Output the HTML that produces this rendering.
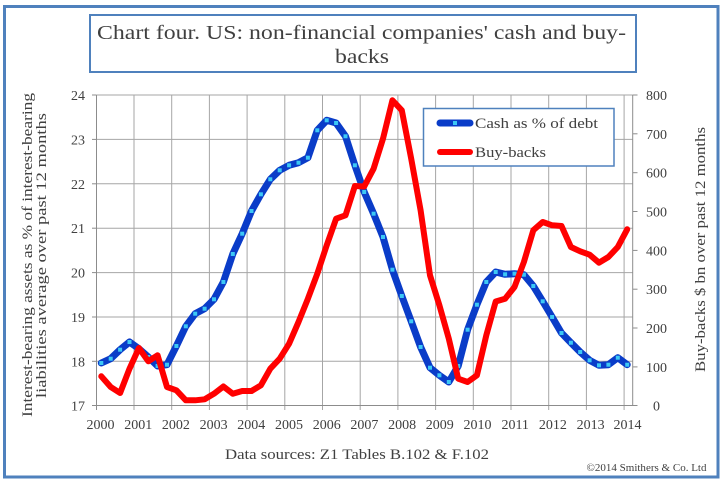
<!DOCTYPE html>
<html><head><meta charset="utf-8"><style>
html,body{margin:0;padding:0;background:#fff;}
svg{display:block;}
text{font-family:"Liberation Serif",serif;fill:#404040;}
</style></head><body>
<svg width="727" height="483" viewBox="0 0 727 483" xmlns="http://www.w3.org/2000/svg">
<rect x="0" y="0" width="727" height="483" fill="#fff"/>
<rect x="4.5" y="6.5" width="713.5" height="470.5" fill="none" stroke="#4F81BD" stroke-width="3"/>
<rect x="90" y="15" width="546" height="57" fill="#fff" stroke="#4F81BD" stroke-width="2"/>
<text x="361.5" y="39" font-size="20" text-anchor="middle" textLength="529" lengthAdjust="spacingAndGlyphs">Chart four. US: non-financial companies' cash and buy-</text>
<text x="362" y="63" font-size="20" text-anchor="middle" textLength="54" lengthAdjust="spacingAndGlyphs">backs</text>

<g stroke="#A6A6A6" stroke-width="1" fill="none">
<line x1="96" y1="95" x2="633" y2="95"/>
<line x1="96" y1="139.4" x2="633" y2="139.4"/>
<line x1="96" y1="183.8" x2="633" y2="183.8"/>
<line x1="96" y1="228.2" x2="633" y2="228.2"/>
<line x1="96" y1="272.6" x2="633" y2="272.6"/>
<line x1="96" y1="317" x2="633" y2="317"/>
<line x1="96" y1="361.3" x2="633" y2="361.3"/>
<line x1="134" y1="95" x2="134" y2="410"/>
<line x1="171.7" y1="95" x2="171.7" y2="410"/>
<line x1="209.4" y1="95" x2="209.4" y2="410"/>
<line x1="247.1" y1="95" x2="247.1" y2="410"/>
<line x1="284.8" y1="95" x2="284.8" y2="410"/>
<line x1="322.5" y1="95" x2="322.5" y2="410"/>
<line x1="360.2" y1="95" x2="360.2" y2="410"/>
<line x1="397.9" y1="95" x2="397.9" y2="410"/>
<line x1="435.6" y1="95" x2="435.6" y2="410"/>
<line x1="473.3" y1="95" x2="473.3" y2="410"/>
<line x1="511" y1="95" x2="511" y2="410"/>
<line x1="548.7" y1="95" x2="548.7" y2="410"/>
<line x1="586.4" y1="95" x2="586.4" y2="410"/>
<line x1="624.1" y1="95" x2="624.1" y2="410"/>
</g>
<g stroke="#8C8C8C" stroke-width="1" fill="none">
<line x1="96.5" y1="95" x2="96.5" y2="410"/>
<line x1="92" y1="405.5" x2="633" y2="405.5"/>
<line x1="632.7" y1="95" x2="632.7" y2="405.5"/>
<line x1="92" y1="95" x2="96" y2="95"/>
<line x1="92" y1="139.4" x2="96" y2="139.4"/>
<line x1="92" y1="183.8" x2="96" y2="183.8"/>
<line x1="92" y1="228.2" x2="96" y2="228.2"/>
<line x1="92" y1="272.6" x2="96" y2="272.6"/>
<line x1="92" y1="317" x2="96" y2="317"/>
<line x1="92" y1="361.3" x2="96" y2="361.3"/>
<line x1="633" y1="95" x2="637.5" y2="95"/>
<line x1="633" y1="133.8" x2="637.5" y2="133.8"/>
<line x1="633" y1="172.7" x2="637.5" y2="172.7"/>
<line x1="633" y1="211.5" x2="637.5" y2="211.5"/>
<line x1="633" y1="250.4" x2="637.5" y2="250.4"/>
<line x1="633" y1="289.2" x2="637.5" y2="289.2"/>
<line x1="633" y1="328" x2="637.5" y2="328"/>
<line x1="633" y1="366.9" x2="637.5" y2="366.9"/>
<line x1="633" y1="405.5" x2="637.5" y2="405.5"/>
</g>

<g font-size="14" text-anchor="end">
<text x="85" y="100">24</text>
<text x="85" y="144.4">23</text>
<text x="85" y="188.8">22</text>
<text x="85" y="233.2">21</text>
<text x="85" y="277.6">20</text>
<text x="85" y="322">19</text>
<text x="85" y="366.3">18</text>
<text x="85" y="410.5">17</text>
</g>
<g font-size="14">
<text x="646" y="100">800</text>
<text x="646" y="138.8">700</text>
<text x="646" y="177.7">600</text>
<text x="646" y="216.5">500</text>
<text x="646" y="255.4">400</text>
<text x="646" y="294.2">300</text>
<text x="646" y="333">200</text>
<text x="646" y="371.9">100</text>
<text x="653" y="410.5">0</text>
</g>
<g font-size="14" text-anchor="middle">
<text x="100.5" y="429">2000</text>
<text x="138.2" y="429">2001</text>
<text x="175.9" y="429">2002</text>
<text x="213.6" y="429">2003</text>
<text x="251.3" y="429">2004</text>
<text x="289" y="429">2005</text>
<text x="326.7" y="429">2006</text>
<text x="364.4" y="429">2007</text>
<text x="402.1" y="429">2008</text>
<text x="439.8" y="429">2009</text>
<text x="477.5" y="429">2010</text>
<text x="515.2" y="429">2011</text>
<text x="552.9" y="429">2012</text>
<text x="590.6" y="429">2013</text>
<text x="627.5" y="429">2014</text>
</g>

<text transform="translate(32,255) rotate(-90)" font-size="15" text-anchor="middle" textLength="324" lengthAdjust="spacingAndGlyphs">Interest-bearing assets as % of interest-bearing</text>
<text transform="translate(46,255.5) rotate(-90)" font-size="15" text-anchor="middle" textLength="285" lengthAdjust="spacingAndGlyphs">liabilities average over past 12 months</text>
<text transform="translate(705,249.5) rotate(-90)" font-size="15" text-anchor="middle" textLength="245" lengthAdjust="spacingAndGlyphs">Buy-backs $ bn over past 12 months</text>

<text x="357" y="459" font-size="15" text-anchor="middle" textLength="264" lengthAdjust="spacingAndGlyphs">Data sources: Z1 Tables B.102 &amp; F.102</text>
<text x="646.5" y="471" font-size="10.5" text-anchor="middle" textLength="120" lengthAdjust="spacingAndGlyphs">©2014 Smithers &amp; Co. Ltd</text>

<polyline fill="none" stroke="#0A3CC8" stroke-width="7" stroke-linejoin="round" stroke-linecap="round" points="101.3,363 110.7,358.7 120.1,349.7 129.5,342 138.9,348.7 148.3,357 157.6,366 167,364.7 176.4,346 185.8,326.3 195.2,313.7 204.6,308.7 214,299.3 223.4,282 232.8,254 242.2,233.7 251.5,211 260.9,194.3 270.3,179.3 279.7,170.3 289.1,165.3 298.5,162.7 307.9,157.7 317.3,130.3 326.7,120.3 336.1,123 345.5,136.3 354.9,165.3 364.2,192 373.6,213.7 383,237 392.4,269.7 401.8,296 411.2,321.3 420.6,347 430,367.7 439.4,375.3 448.8,382 458.2,366 467.6,329.7 476.9,304.7 486.3,282 495.7,272 505.1,274.3 514.5,273.7 523.9,274.7 533.3,286 542.7,301.3 552.1,317 561.5,333 570.9,342.7 580.2,352 589.6,360.3 599,365.3 608.4,364.7 617.8,357.7 627.2,364.7"/>
<g fill="#3CC8F5" id="mk">
<rect x="99.3" y="361" width="4" height="4"/><rect x="108.7" y="356.7" width="4" height="4"/><rect x="118.1" y="347.7" width="4" height="4"/><rect x="127.5" y="340" width="4" height="4"/><rect x="136.9" y="346.7" width="4" height="4"/><rect x="146.3" y="355" width="4" height="4"/><rect x="155.6" y="364" width="4" height="4"/><rect x="165" y="362.7" width="4" height="4"/><rect x="174.4" y="344" width="4" height="4"/><rect x="183.8" y="324.3" width="4" height="4"/><rect x="193.2" y="311.7" width="4" height="4"/><rect x="202.6" y="306.7" width="4" height="4"/><rect x="212" y="297.3" width="4" height="4"/><rect x="221.4" y="280" width="4" height="4"/><rect x="230.8" y="252" width="4" height="4"/><rect x="240.2" y="231.7" width="4" height="4"/><rect x="249.5" y="209" width="4" height="4"/><rect x="258.9" y="192.3" width="4" height="4"/><rect x="268.3" y="177.3" width="4" height="4"/><rect x="277.7" y="168.3" width="4" height="4"/><rect x="287.1" y="163.3" width="4" height="4"/><rect x="296.5" y="160.7" width="4" height="4"/><rect x="305.9" y="155.7" width="4" height="4"/><rect x="315.3" y="128.3" width="4" height="4"/><rect x="324.7" y="118.3" width="4" height="4"/><rect x="334.1" y="121" width="4" height="4"/><rect x="343.5" y="134.3" width="4" height="4"/><rect x="352.9" y="163.3" width="4" height="4"/><rect x="362.2" y="190" width="4" height="4"/><rect x="371.6" y="211.7" width="4" height="4"/><rect x="381" y="235" width="4" height="4"/><rect x="390.4" y="267.7" width="4" height="4"/><rect x="399.8" y="294" width="4" height="4"/><rect x="409.2" y="319.3" width="4" height="4"/><rect x="418.6" y="345" width="4" height="4"/><rect x="428" y="365.7" width="4" height="4"/><rect x="437.4" y="373.3" width="4" height="4"/><rect x="446.8" y="380" width="4" height="4"/><rect x="456.2" y="364" width="4" height="4"/><rect x="465.6" y="327.7" width="4" height="4"/><rect x="474.9" y="302.7" width="4" height="4"/><rect x="484.3" y="280" width="4" height="4"/><rect x="493.7" y="270" width="4" height="4"/><rect x="503.1" y="272.3" width="4" height="4"/><rect x="512.5" y="271.7" width="4" height="4"/><rect x="521.9" y="272.7" width="4" height="4"/><rect x="531.3" y="284" width="4" height="4"/><rect x="540.7" y="299.3" width="4" height="4"/><rect x="550.1" y="315" width="4" height="4"/><rect x="559.5" y="331" width="4" height="4"/><rect x="568.9" y="340.7" width="4" height="4"/><rect x="578.2" y="350" width="4" height="4"/><rect x="587.6" y="358.3" width="4" height="4"/><rect x="597" y="363.3" width="4" height="4"/><rect x="606.4" y="362.7" width="4" height="4"/><rect x="615.8" y="355.7" width="4" height="4"/><rect x="625.2" y="362.7" width="4" height="4"/>
</g>
<polyline fill="none" stroke="#FF0000" stroke-width="6" stroke-linejoin="round" stroke-linecap="round" points="101.3,376.3 110.7,387 120.1,393 129.5,368.7 138.9,348 148.3,361.3 157.6,355.3 167,387 176.4,390.3 185.8,400.3 195.2,400.3 204.6,399.3 214,393.7 223.4,386.5 232.8,393.7 242.2,391 251.5,391 260.9,385.3 270.3,368.7 279.7,358.7 289.1,343.7 298.5,322 307.9,298.7 317.3,273.7 326.7,245.3 336.1,218.7 345.5,215.3 354.9,186 364.2,186.5 373.6,168.7 383,138.7 392.4,100.3 401.8,110.3 411.2,158.7 420.6,210.3 430,275.3 439.4,305.3 448.8,338.7 458.2,378.7 467.6,382 476.9,375.3 486.3,335.3 495.7,301.5 505.1,298.7 514.5,287 523.9,262 533.3,230.3 542.7,222 552.1,225.3 561.5,226 570.9,247 580.2,251.3 589.6,254.7 599,262.7 608.4,257 617.8,247 627.2,229.3"/>

<rect x="423.5" y="108.5" width="190.5" height="57.5" fill="#fff" stroke="#4F81BD" stroke-width="1.5"/>
<line x1="440" y1="123" x2="470" y2="123" stroke="#0A3CC8" stroke-width="7" stroke-linecap="round"/>
<rect x="453" y="121" width="4" height="4" fill="#3CC8F5"/>
<line x1="440" y1="152" x2="470" y2="152" stroke="#FF0000" stroke-width="6" stroke-linecap="round"/>
<text x="475" y="128" font-size="15" textLength="123" lengthAdjust="spacingAndGlyphs">Cash as % of debt</text>
<text x="475" y="157" font-size="15" textLength="71" lengthAdjust="spacingAndGlyphs">Buy-backs</text>
</svg>
</body></html>
